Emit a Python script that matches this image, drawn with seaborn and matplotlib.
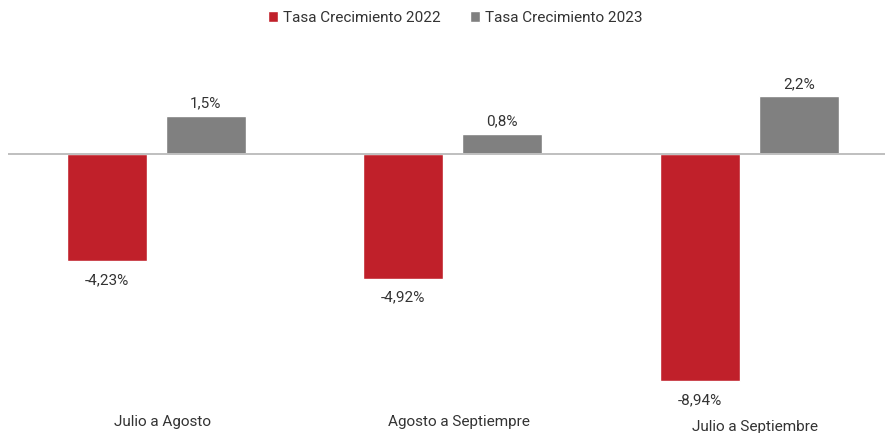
import matplotlib
matplotlib.use("Agg")
import matplotlib.pyplot as plt
import seaborn as sns
import pandas as pd
from matplotlib.transforms import blended_transform_factory

# ---- data ----
categories = ["Julio a Agosto", "Agosto a Septiempre", "Julio a Septiembre"]
series_names = ["Tasa Crecimiento 2022", "Tasa Crecimiento 2023"]
values_2022 = [-4.23, -4.92, -8.94]
values_2023 = [1.47, 0.77, 2.24]
label_decimals = [2, 1]

colors = ["#C0202A", "#808080"]
text_color = "#333333"

df = pd.DataFrame({
    "Periodo": categories * 2,
    "Serie": [series_names[0]] * 3 + [series_names[1]] * 3,
    "Valor": values_2022 + values_2023,
})

sns.set_theme(style="white")
plt.rcParams["font.family"] = ["Roboto", "DejaVu Sans"]

W, H = 885, 433
fig = plt.figure(figsize=(W / 100, H / 100), dpi=100)
ax_top_px, ax_bot_px, ax_left_px = 40, 400, 8
ax = fig.add_axes([ax_left_px / W, (H - ax_bot_px) / H, (W - ax_left_px) / W, (ax_bot_px - ax_top_px) / H])

sns.barplot(data=df, x="Periodo", y="Valor", hue="Serie", order=categories,
            hue_order=series_names, palette=colors, saturation=1,
            width=0.667, gap=0.19, ax=ax, errorbar=None)

zero_px = 153.5
px_per_unit = 25.5
ax.set_ylim(-(ax_bot_px - zero_px) / px_per_unit, (zero_px - ax_top_px) / px_per_unit)
ax.set_xlim(-0.5, -0.5 + (W - ax_left_px) / 296.5)

ax.axhline(0, color="#BFBFBF", lw=1.4, zorder=3)

for cont, dec in zip(ax.containers, label_decimals):
    vals = [b.get_height() for b in cont]
    labs = [f"{v:.{dec}f}%".replace(".", ",") for v in vals]
    if all(v >= 0 for v in vals):
        ax.bar_label(cont, labels=labs, padding=4, fontsize=11, color=text_color)
    else:
        ax.bar_label(cont, labels=labs, padding=8.5, fontsize=11, color=text_color)

for s in ax.spines.values():
    s.set_visible(False)
ax.set_yticks([])
ax.set_xticks([])
ax.set_xlabel("")
ax.set_ylabel("")

label_y_px = [422, 422, 427]
tr = blended_transform_factory(ax.transData, fig.transFigure)
for i, (c, ypx) in enumerate(zip(categories, label_y_px)):
    ax.text(i + 0.02, 1 - ypx / H, c, transform=tr, ha="center", va="center",
            fontsize=11, color=text_color)

handles, labels = ax.get_legend_handles_labels()
if ax.get_legend() is not None:
    ax.get_legend().remove()
fig.legend(handles, labels, loc="center", bbox_to_anchor=(455 / W, 1 - 18 / H),
           ncol=2, frameon=False, handlelength=0.7, handleheight=0.7,
           handletextpad=0.3, columnspacing=1.9, fontsize=11,
           labelcolor=text_color)

fig.savefig("out.png", dpi=100)
